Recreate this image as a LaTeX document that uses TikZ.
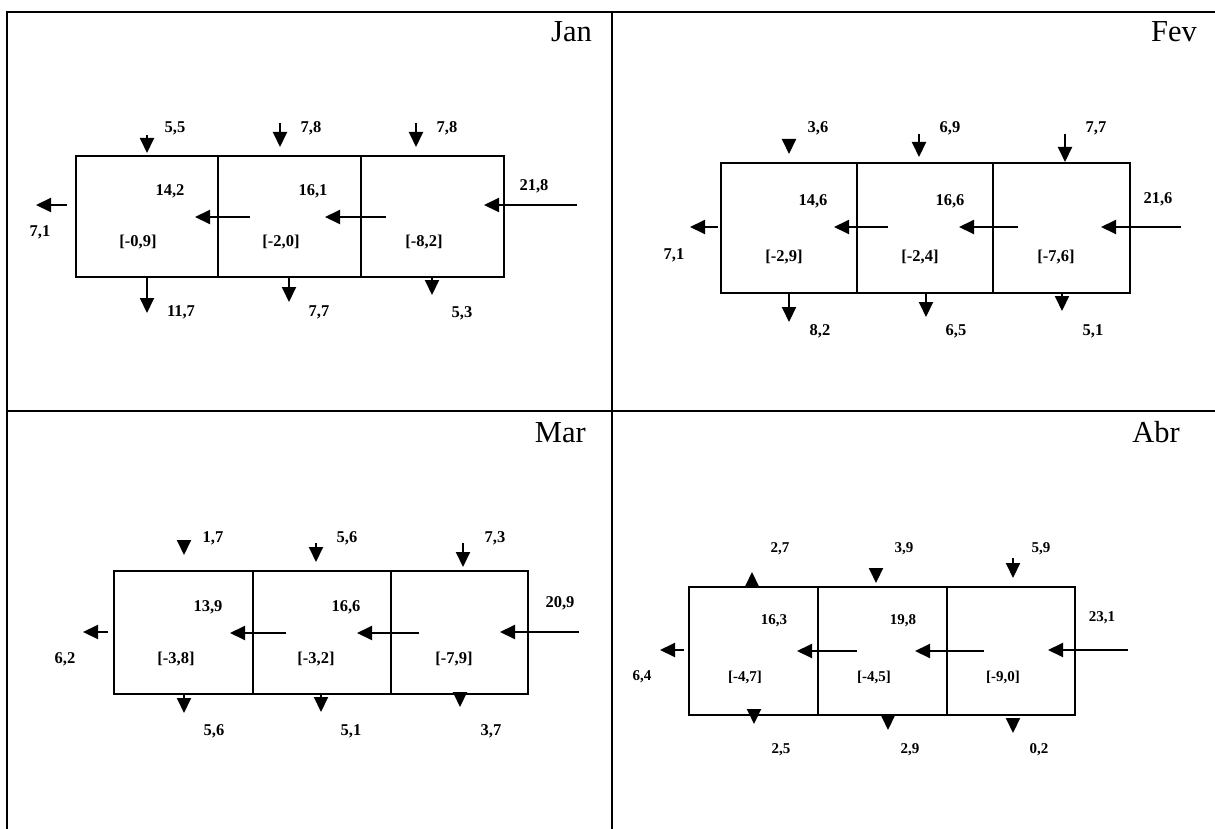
\documentclass[tikz,border=0pt]{standalone}
\usepackage{fontspec}
\setmainfont{Liberation Serif}
\usetikzlibrary{arrows.meta}
\tikzstyle{cell}=[draw,line width=2pt,inner sep=0pt]
\tikzstyle{flow}=[draw,line width=2pt,-{Triangle[length=15pt,width=14pt]}]
\tikzstyle{weight}=[font=\fontsize{16.5}{18}\selectfont\bfseries,inner sep=0pt]
\tikzstyle{smallweight}=[font=\fontsize{15}{17}\selectfont\bfseries,inner sep=0pt]
\tikzstyle{month}=[font=\fontsize{30.5}{32}\selectfont,inner sep=0pt,anchor=base east]
\tikzstyle{grid}=[line width=2.5pt]

\begin{document}
\begin{tikzpicture}[x=1pt,y=-1pt]
	\useasboundingbox (0,0) rectangle (1215,829);
	% The table round the four months
	\draw[grid] (7,829) -- (7,12) -- (1215,12);
	\draw[grid] (7,411) -- (1215,411);
	\draw[grid] (612,12) -- (612,829);

	% January
	\node[month] (jan) at (592,42) {Jan};
	\foreach \pos/\w/\name in {{(147,216.5)/142/j1}, {(289.5,216.5)/143/j2}, {(432.5,216.5)/143/j3}}
	\node[cell,minimum width=\w,minimum height=121] (\name) at \pos {};
	\foreach \src/\dst/\lab/\val/\nm in {{(147,135)/(147,153)/(175,128)/{5,5}/jt1}, {(280,123)/(280,147)/(311,128)/{7,8}/jt2},
		{(416,123)/(416,147)/(447,128)/{7,8}/jt3}, {(147,277)/(147,313)/(181,312)/{11,7}/jb1},
		{(289,277)/(289,302)/(319,312)/{7,7}/jb2}, {(432,277)/(432,295)/(462,313)/{5,3}/jb3},
		{(577,205)/(484,205)/(534,186)/{21,8}/jin}, {(67,205)/(36,205)/(40,232)/{7,1}/jout}}{
		\path[flow] \src coordinate (\nm s) -- \dst coordinate (\nm e);
		\node[weight] (\nm v) at \lab {\val};
	}
	\foreach \src/\dst/\nm in {{(386,217)/(325,217)/jm1}, {(250,217)/(195,217)/jm2}}
	\path[flow] \src coordinate (\nm s) -- \dst coordinate (\nm e);
	\foreach \pos/\txt/\name in {{(170,191)/{14,2}/jq1}, {(313,191)/{16,1}/jq2},
		{(138,242)/{[-0,9]}/jd1}, {(281,242)/{[-2,0]}/jd2}, {(424,242)/{[-8,2]}/jd3}}
	\node[weight] (\name) at \pos {\txt};

	% February
	\node[month] (fev) at (1197,42) {Fev};
	\foreach \pos/\w/\name in {{(789,228)/136/f1}, {(925,228)/136/f2}, {(1061.5,228)/137/f3}}
	\node[cell,minimum width=\w,minimum height=130] (\name) at \pos {};
	\foreach \src/\dst/\lab/\val/\nm in {{(789,140)/(789,154)/(818,128)/{3,6}/ft1}, {(919,134)/(919,157)/(950,128)/{6,9}/ft2},
		{(1065,134)/(1065,162)/(1096,128)/{7,7}/ft3}, {(789,293)/(789,322)/(820,331)/{8,2}/fb1},
		{(926,293)/(926,317)/(956,331)/{6,5}/fb2}, {(1062,293)/(1062,311)/(1093,331)/{5,1}/fb3},
		{(1181,227)/(1101,227)/(1158,199)/{21,6}/fin}, {(718,227)/(690,227)/(674,255)/{7,1}/fout}}{
		\path[flow] \src coordinate (\nm s) -- \dst coordinate (\nm e);
		\node[weight] (\nm v) at \lab {\val};
	}
	\foreach \src/\dst/\nm in {{(1018,227)/(959,227)/fm1}, {(888,227)/(834,227)/fm2}}
	\path[flow] \src coordinate (\nm s) -- \dst coordinate (\nm e);
	\foreach \pos/\txt/\name in {{(813,201)/{14,6}/fq1}, {(950,201)/{16,6}/fq2},
		{(784,257)/{[-2,9]}/fd1}, {(920,257)/{[-2,4]}/fd2}, {(1056,257)/{[-7,6]}/fd3}}
	\node[weight] (\name) at \pos {\txt};

	% March
	\node[month] (mar) at (586,442) {Mar};
	\foreach \pos/\w/\name in {{(183.5,632.5)/139/m1}, {(322,632.5)/138/m2}, {(459.5,632.5)/137/m3}}
	\node[cell,minimum width=\w,minimum height=123] (\name) at \pos {};
	\foreach \src/\dst/\lab/\val/\nm in {{(184,540)/(184,555)/(213,538)/{1,7}/mt1}, {(316,543)/(316,562)/(347,538)/{5,6}/mt2},
		{(463,543)/(463,567)/(495,538)/{7,3}/mt3}, {(184,694)/(184,713)/(214,731)/{5,6}/mb1},
		{(321,694)/(321,712)/(351,731)/{5,1}/mb2}, {(460,693)/(460,707)/(491,731)/{3,7}/mb3},
		{(579,632)/(500,632)/(560,603)/{20,9}/min}, {(108,632)/(83,632)/(65,659)/{6,2}/mout}}{
		\path[flow] \src coordinate (\nm s) -- \dst coordinate (\nm e);
		\node[weight] (\nm v) at \lab {\val};
	}
	\foreach \src/\dst/\nm in {{(419,633)/(357,633)/mm1}, {(286,633)/(230,633)/mm2}}
	\path[flow] \src coordinate (\nm s) -- \dst coordinate (\nm e);
	\foreach \pos/\txt/\name in {{(208,607)/{13,9}/mq1}, {(346,607)/{16,6}/mq2},
		{(176,659)/{[-3,8]}/md1}, {(316,659)/{[-3,2]}/md2}, {(454,659)/{[-7,9]}/md3}}
	\node[weight] (\name) at \pos {\txt};

	% April
	\node[month] (abr) at (1180,442) {Abr};
	\foreach \pos/\w/\name in {{(753.5,651)/129/a1}, {(882.5,651)/129/a2}, {(1011,651)/128/a3}}
	\node[cell,minimum width=\w,minimum height=128] (\name) at \pos {};
	\foreach \src/\dst/\lab/\val/\nm in {{(752,587)/(752,572)/(780,549)/{2,7}/at1}, {(876,568)/(876,583)/(904,549)/{3,9}/at2},
		{(1013,558)/(1013,578)/(1041,549)/{5,9}/at3}, {(754,709)/(754,724)/(781,750)/{2,5}/ab1},
		{(888,716)/(888,730)/(910,750)/{2,9}/ab2}, {(1013,718)/(1013,733)/(1039,750)/{0,2}/ab3},
		{(1128,650)/(1048,650)/(1102,618)/{23,1}/ain}, {(684,650)/(660,650)/(642,677)/{6,4}/aout}}{
		\path[flow] \src coordinate (\nm s) -- \dst coordinate (\nm e);
		\node[smallweight] (\nm v) at \lab {\val};
	}
	\foreach \src/\dst/\nm in {{(984,651)/(915,651)/am1}, {(857,651)/(797,651)/am2}}
	\path[flow] \src coordinate (\nm s) -- \dst coordinate (\nm e);
	\foreach \pos/\txt/\name in {{(774,621)/{16,3}/aq1}, {(903,621)/{19,8}/aq2},
		{(745,677)/{[-4,7]}/ad1}, {(874,677)/{[-4,5]}/ad2}, {(1003,677)/{[-9,0]}/ad3}}
	\node[smallweight] (\name) at \pos {\txt};
\end{tikzpicture}
\end{document}
